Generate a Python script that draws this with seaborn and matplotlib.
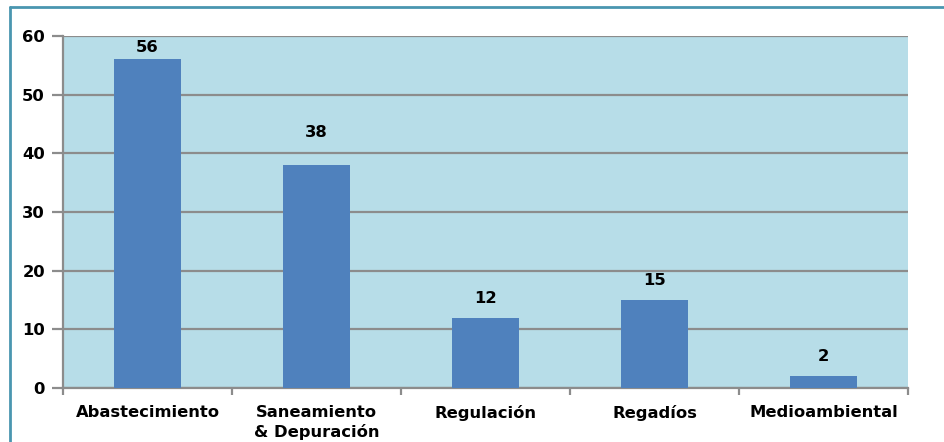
import matplotlib
matplotlib.use("Agg")
import matplotlib.pyplot as plt
import seaborn as sns
import numpy as np
import pandas as pd
from matplotlib.lines import Line2D

categories = ["Abastecimiento", "Saneamiento\n& Depuración", "Regulación", "Regadíos", "Medioambiental"]
values = [56, 38, 12, 15, 2]
yticks = [0, 10, 20, 30, 40, 50, 60]

sns.set_theme(style="white")
plt.rcParams['font.family'] = ['DejaVu Sans']
plt.rcParams['text.color'] = 'black'

FS = 11.8

df = pd.DataFrame({"cat": categories, "val": values})

fig = plt.figure(figsize=(9.44, 4.42), dpi=100)
ax = fig.add_axes([63/944, 1-388/442, (908-63)/944, (388-36)/442])
ax.set_facecolor("#B7DDE8")

sns.barplot(data=df, x="cat", y="val", color="#4F81BD", saturation=1, width=0.4,
            linewidth=0, ax=ax, zorder=3)

ax.set_ylim(0, 60)
ax.set_xlim(-0.5, len(categories) - 0.5)
ax.set_yticks(yticks)
ax.set_yticklabels([str(t) for t in yticks], fontsize=FS, fontweight="bold", color="black")
ax.yaxis.grid(True, color="#8C8C8C", linewidth=1.6, zorder=1)
ax.set_axisbelow(True)
ax.set_xlabel("")
ax.set_ylabel("")
ax.tick_params(axis="y", which="major", direction="out", length=8, width=1.6, color="#8C8C8C",
               pad=5, left=True, labelcolor="black")
ax.tick_params(axis="x", which="major", length=0, pad=12, labelcolor="black")
ax.set_xticks(np.arange(-0.5, len(categories), 1.0), minor=True)
ax.tick_params(axis="x", which="minor", direction="out", length=5, width=1.6, color="#8C8C8C", bottom=True)
for lbl in ax.get_xticklabels():
    lbl.set_fontsize(FS)
    lbl.set_fontweight("bold")
    lbl.set_color("black")
    lbl.set_linespacing(1.35)

for s in ["top", "right"]:
    ax.spines[s].set_visible(False)
for s in ["left", "bottom"]:
    ax.spines[s].set_color("#8C8C8C")
    ax.spines[s].set_linewidth(1.6)

for i, v in enumerate(values):
    if v > 50:
        off = 2.0
    elif v > 30:
        off = 5.6
    else:
        off = 3.3
    ax.text(i, v + off, str(v), ha="center", va="center", fontsize=FS, fontweight="bold", color="black")

fig.add_artist(Line2D([10/944, 1.0], [1-6.5/442, 1-6.5/442], color="#4A96B0", linewidth=2))
fig.add_artist(Line2D([10/944, 10/944], [0, 1-6.5/442], color="#4A96B0", linewidth=2))

fig.savefig("out.png", dpi=100)
